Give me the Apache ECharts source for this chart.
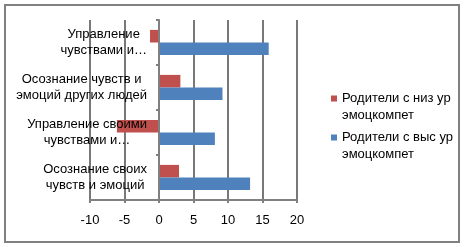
<!DOCTYPE html>
<html>
<head>
<meta charset="utf-8">
<script src="https://cdn.jsdelivr.net/npm/echarts@6/dist/echarts.min.js"></script>
<style>
html,body{margin:0;padding:0;background:#fff;}
#chart{width:464px;height:247px;}
</style>
</head>
<body>
<div id="chart"></div>
<script>
var categories = [
  'Осознание своих\nчувств и эмоций',
  'Управление своими\nчувствами и…',
  'Осознание чувств и\nэмоций других людей',
  'Управление\nчувствами и…'
];
var seriesNames = [
  'Родители с низ ур\nэмоцкомпет',
  'Родители с выс ур\nэмоцкомпет'
];
var lowValues = [2.9, -6.1, 3.1, -1.3];
var highValues = [13.2, 8.1, 9.2, 15.9];
var xMin = -10, xMax = 20, xStep = 5;

var FONT = '"Liberation Sans", Arial, sans-serif';
var GRAY = '#808080';

var chart = echarts.init(document.getElementById('chart'), null, {renderer: 'canvas'});
chart.setOption({
  animation: false,
  backgroundColor: '#ffffff',
  graphic: [{
    type: 'rect',
    shape: {x: 5, y: 5, width: 454, height: 237},
    style: {fill: null, stroke: GRAY, lineWidth: 2},
    silent: true
  }],
  legend: {
    orient: 'vertical',
    left: 326,
    top: 85,
    itemWidth: 6,
    itemHeight: 34,
    itemGap: 5,
    icon: 'path://M0,5.5h6v6h-6z M0,0h0.01v0.01h-0.01z M5.99,33.99h0.01v0.01h-0.01z',
    data: seriesNames,
    textStyle: {fontSize: 13, lineHeight: 17, color: '#000', fontFamily: FONT}
  },
  grid: {left: 90, right: 167, top: 20, bottom: 47, outerBoundsMode: 'none'},
  xAxis: {
    type: 'value',
    min: xMin, max: xMax, interval: xStep,
    axisLine: {show: true, lineStyle: {color: GRAY, width: 2}},
    axisTick: {show: true, length: 3, lineStyle: {color: GRAY, width: 2}},
    splitLine: {show: true, lineStyle: {color: '#787878', width: 2, type: 'solid', opacity: 1}},
    axisLabel: {fontSize: 13, color: '#000', margin: 14, fontFamily: FONT}
  },
  yAxis: {
    type: 'category',
    data: categories,
    offset: -69,
    z: 5,
    axisLine: {show: true, onZero: false, lineStyle: {color: GRAY, width: 2}},
    axisTick: {show: true, length: 3, lineStyle: {color: GRAY, width: 2}},
    splitLine: {show: false},
    axisLabel: {
      margin: 12,
      color: '#000',
      fontSize: 13,
      lineHeight: 16,
      fontFamily: FONT,
      formatter: function (v) {
        return v.split('\n').map(function (l) { return '{c|' + l + '}'; }).join('\n');
      },
      rich: {c: {align: 'center', fontSize: 13, lineHeight: 16, fontFamily: FONT, color: '#000'}}
    }
  },
  series: [
    {
      name: seriesNames[0], type: 'bar', data: lowValues,
      itemStyle: {color: '#C0504D'},
      barGap: '0%', barCategoryGap: '44%', z: 3
    },
    {
      name: seriesNames[1], type: 'bar', data: highValues,
      itemStyle: {color: '#4F81BD'},
      barGap: '0%', barCategoryGap: '44%', z: 3
    }
  ]
});
</script>
</body>
</html>
